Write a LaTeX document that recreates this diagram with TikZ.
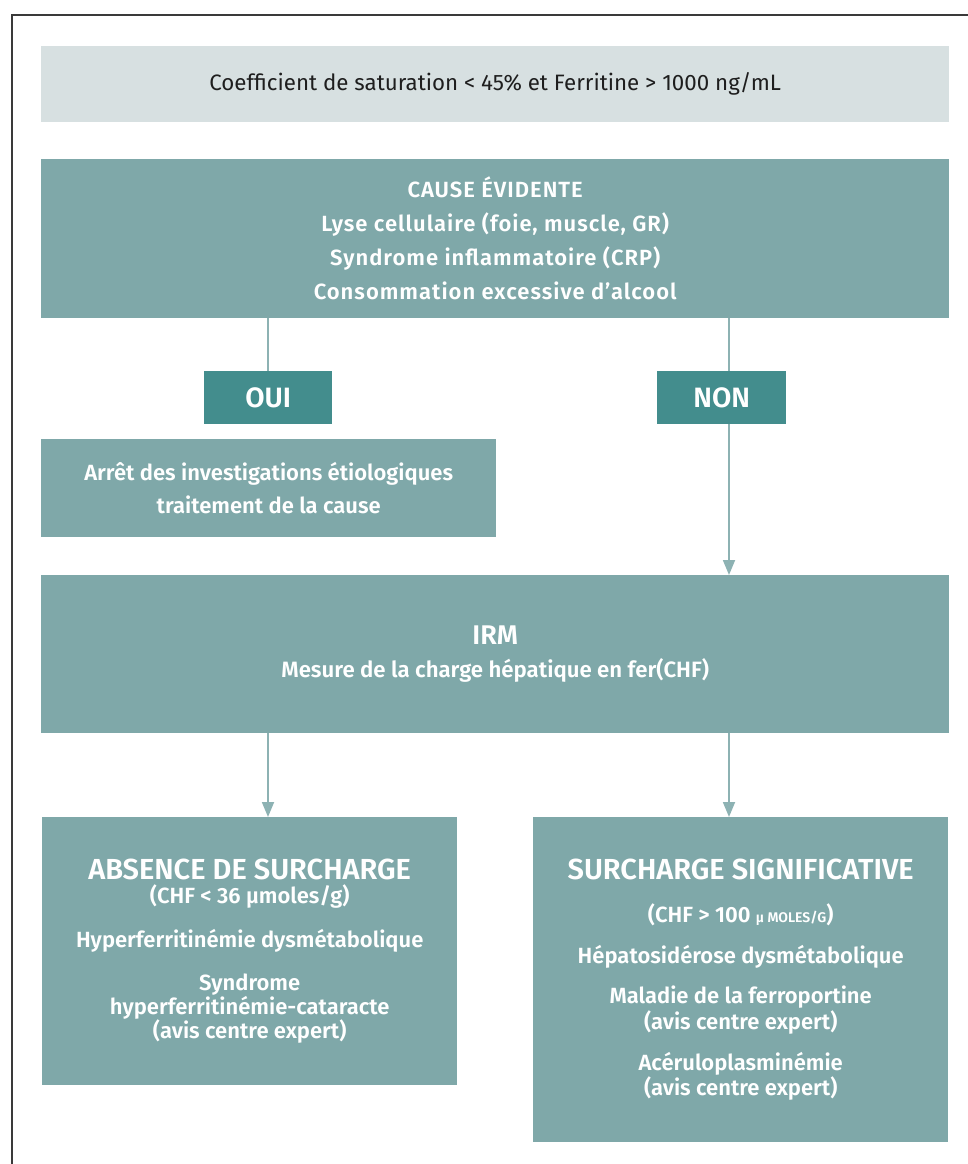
\documentclass[tikz,border=0pt]{standalone}
\usepackage{fontspec}
\setmainfont{Fira Sans}[BoldFont={Fira Sans SemiBold}]
\usetikzlibrary{arrows.meta}

\definecolor{paneltop}{HTML}{D7E0E1}
\definecolor{panel}{HTML}{7FA8A9}
\definecolor{tag}{HTML}{438D8D}
\definecolor{link}{HTML}{8DB2B3}
\definecolor{framegray}{HTML}{3A3A3A}
\definecolor{ink}{HTML}{1E1E1E}

\begin{document}
\begin{tikzpicture}[x=1pt,y=-1pt,
  box/.style={anchor=north west, inner sep=0pt, align=center},
  headbox/.style={box, fill=paneltop, text=ink, font=\fontsize{22.3}{26}\selectfont},
  panelbox/.style={box, fill=panel, text=white, font=\bfseries\fontsize{22}{25}\selectfont},
  widebox/.style={panelbox, font=\addfontfeatures{LetterSpace=4.5}\bfseries\fontsize{22}{34}\selectfont},
  tagbox/.style={box, fill=tag, text=white, font=\bfseries\fontsize{28}{30}\selectfont},
  link/.style={draw=link, line width=1.8pt},
  linkarrow/.style={link, -{Triangle[width=12pt,length=15pt]}},
]
\useasboundingbox (0,0) rectangle (968,1164);

% outer frame (open to the right and bottom)
\draw[framegray, line width=1.4pt] (12,1164) -- (12,15) -- (968,15);

% column positions of the connectors
\coordinate (colL) at (268,0);
\coordinate (colR) at (729,0);

\node[headbox, minimum width=908pt, minimum height=76pt] (head) at (41,46)
  {Coefficient de saturation < 45\% et Ferritine > 1000 ng/mL};

\node[widebox, minimum width=908pt, minimum height=159pt] (cause) at (41,159)
  {CAUSE ÉVIDENTE\\
   Lyse cellulaire (foie, muscle, GR)\\
   Syndrome inflammatoire (CRP)\\
   Consommation excessive d’alcool};

\node[tagbox, minimum width=128pt, minimum height=53pt] (oui) at (204,371) {OUI};
\node[tagbox, minimum width=129pt, minimum height=53pt] (non) at (657,371) {NON};

\node[panelbox, minimum width=455pt, minimum height=98pt,
      font=\bfseries\fontsize{22}{33}\selectfont] (stop) at (41,439)
  {Arrêt des investigations étiologiques\\
   traitement de la cause};

\node[panelbox, minimum width=908pt, minimum height=158pt,
      font=\bfseries\fontsize{22.2}{33}\selectfont] (irm) at (41,575)
  {{\fontsize{27}{28}\selectfont IRM}\\
   Mesure de la charge hépatique en fer(CHF)};

\node[panelbox, minimum width=415pt, minimum height=268pt] (absent) at (42,817)
  {{\fontsize{29}{30}\selectfont ABSENCE DE SURCHARGE}\\[-1pt]
   (CHF < 36 µmoles/g)\\[19pt]
   Hyperferritinémie dysmétabolique\\[18pt]
   Syndrome\\[-1pt]
   hyperferritinémie-cataracte\\[-1pt]
   (avis centre expert)};

\node[panelbox, minimum width=415pt, minimum height=325pt] (signif) at (533,817)
  {{\fontsize{29}{30}\selectfont SURCHARGE SIGNIFICATIVE}\\[18pt]
   (CHF > 100 {\fontsize{14}{16}\selectfont µ MOLES/G})\\[16pt]
   Hépatosidérose dysmétabolique\\[15pt]
   Maladie de la ferroportine\\[1pt]
   (avis centre expert)\\[16pt]
   Acéruloplasminémie\\[0pt]
   (avis centre expert)};

% connectors
\draw[link] (cause.south -| colL) -- (oui.north -| colL);
\draw[link] (cause.south -| colR) -- (non.north -| colR);
\draw[linkarrow] (non.south -| colR) -- (irm.north -| colR);
\draw[linkarrow] (irm.south -| colL) -- (absent.north -| colL);
\draw[linkarrow] (irm.south -| colR) -- (signif.north -| colR);
\end{tikzpicture}
\end{document}
